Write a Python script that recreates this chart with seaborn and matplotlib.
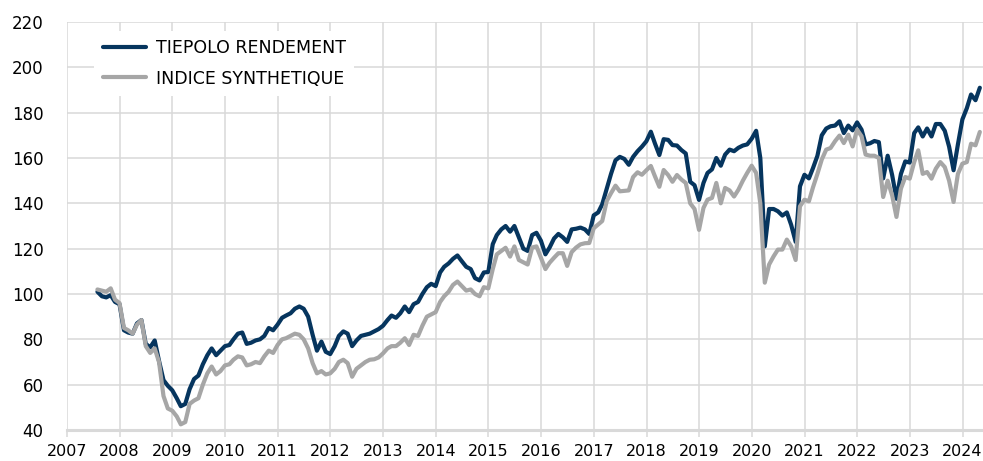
import pandas as pd
import matplotlib
matplotlib.use("Agg")
import matplotlib.pyplot as plt
import matplotlib.dates as mdates
import seaborn as sns

# monthly values, end of month, Jul 2007 -> Apr 2024
dates = pd.date_range("2007-07-31", "2024-04-30", freq="ME")

tiepolo = [
    101, 99, 98.5, 99.5, 96.5, 95.5,                                        # 2007
    84, 83, 82.5, 87, 88.5, 78, 76.5, 79.5, 70.5, 62, 59.5, 57.5,           # 2008
    54, 50.5, 51.5, 58, 62.5, 64, 69, 73, 76, 73, 75, 77,                   # 2009
    77.5, 80, 82.5, 83, 78, 78.5, 79.5, 80, 81.5, 85, 84, 86.5,             # 2010
    89.5, 90.5, 91.5, 93.5, 94.5, 93.5, 90, 82, 75, 79, 74.5, 73.5,         # 2011
    77, 81.5, 83.5, 82.5, 77, 79.5, 81.5, 82, 82.5, 83.5, 84.5, 86,         # 2012
    88.5, 90.5, 89.5, 91.5, 94.5, 92, 95.5, 96.5, 100, 103, 104.5, 103.5,   # 2013
    109.5, 112, 113.5, 115.5, 117, 114.5, 112, 111, 107, 106, 109.5, 109.7, # 2014
    122, 126, 128.5, 130, 127.5, 130, 125, 120, 119, 126, 127, 123.5,       # 2015
    117.5, 120.5, 124.5, 126.5, 125, 123, 128.5, 128.8, 129.3, 128.5, 126.5, 134.7,  # 2016
    136, 139.6, 146.5, 153, 159, 160.5, 159.6, 157, 160.5, 163, 165, 167.4,          # 2017
    171.6, 166.5, 161.3, 168.3, 168, 165.7, 165.5, 163.5, 162, 149.5, 148, 141.5,    # 2018
    149, 153.4, 155, 160, 156.6, 161.5, 163.7, 163, 164.5, 165.5, 166, 168.5,        # 2019
    172, 160, 121, 137.5, 137.5, 136.5, 134.6, 136, 130.5, 123, 147.5, 152.6,        # 2020
    151, 155.5, 161, 170, 173, 174, 174.3, 176.2, 171, 174.3, 172.2, 175.7,          # 2021
    172.5, 166, 166.5, 167.5, 167, 151, 161, 152.5, 142, 153, 158.5, 158,            # 2022
    171, 173.5, 169.5, 173, 169.5, 175, 175, 172, 165, 154.6, 166, 177,              # 2023
    182, 188, 185.5, 191,                                                             # 2024
]

indice = [
    102, 101.5, 101, 102.5, 97.5, 96,                                       # 2007
    85, 84, 82.5, 86.5, 88.5, 77, 74, 76, 70, 55, 49.5, 48.5,               # 2008
    46, 42.5, 43.5, 51.5, 53, 54, 60, 65, 68, 64.5, 66, 68.5,               # 2009
    69, 71, 72.5, 72, 68.5, 69, 70, 69.5, 72.5, 75, 74, 77.5,               # 2010
    80, 80.5, 81.5, 82.5, 82, 80, 76, 69.5, 65, 66, 64.5, 65,               # 2011
    67, 70, 71, 69.5, 63.5, 67, 68.5, 70, 71, 71.2, 72, 73.8,               # 2012
    76, 77, 77, 78.5, 80.5, 77.5, 82, 81.5, 86, 90, 91, 92,                 # 2013
    96.5, 99, 101, 104, 105.5, 103.5, 101.5, 102, 100, 99, 103, 102.5,      # 2014
    111, 117.5, 119, 120.4, 116.5, 121, 115, 114, 113, 120.5, 121, 116,     # 2015
    111, 113.8, 116, 118, 118, 112.4, 118.5, 120.5, 121.9, 122.4, 122.5, 129,        # 2016
    130.7, 132.2, 141, 144.5, 147.8, 145.3, 145.5, 145.7, 151.6, 153.7, 152.6, 154.6, # 2017
    156.5, 152, 147.3, 154.7, 152.5, 149.5, 152.5, 150.5, 149, 140, 137.5, 128.3,    # 2018
    138, 141.6, 142.4, 149, 140, 146.8, 145.7, 143, 146, 150, 153.4, 156.6,          # 2019
    153.4, 140, 105, 113, 116.6, 119.6, 119.6, 124, 121, 115, 138.7, 141.6,          # 2020
    140.9, 147, 153, 159.3, 163.7, 164.4, 167.4, 169.9, 166.6, 170.3, 165.1, 172.5,  # 2021
    169.6, 161.5, 161, 161, 160, 142.8, 150, 143.5, 134, 146.5, 151.6, 150.9,        # 2022
    158.2, 163.4, 153, 153.8, 150.9, 155.3, 158.2, 156, 150, 140.6, 153, 157.5,      # 2023
    158.2, 166.3, 165.6, 171.5,                                                       # 2024
]

labels = ["TIEPOLO RENDEMENT", "INDICE SYNTHETIQUE"]
colors = ["#06355e", "#a6a6a6"]
y_ticks = list(range(40, 221, 20))

sns.set_theme(style="whitegrid")
plt.rcParams["font.family"] = ["DejaVu Sans"]

fig = plt.figure(figsize=(9.83, 4.61), dpi=100)
ax = fig.add_axes([67 / 983, 31 / 461, 916 / 983, 408 / 461])

for vals, lab, col in zip([tiepolo, indice], labels, colors):
    sns.lineplot(x=dates, y=vals, ax=ax, color=col, lw=3, label=lab,
                 solid_joinstyle="round", solid_capstyle="round")

ax.set_ylim(40, 220)
ax.set_yticks(y_ticks)
ax.set_xlim(pd.Timestamp("2007-01-01"), pd.Timestamp("2024-05-22"))
ax.xaxis.set_major_locator(mdates.YearLocator())
ax.xaxis.set_major_formatter(mdates.DateFormatter("%Y"))
ax.set_xlabel("")
ax.set_ylabel("")

ax.grid(True, color="#d9d9d9", lw=1.1)
for side in ["top", "right", "left"]:
    ax.spines[side].set_visible(False)
ax.spines["bottom"].set_color("#d9d9d9")
ax.spines["bottom"].set_linewidth(2.2)

ax.tick_params(axis="x", bottom=True, length=5, width=1.1, color="#d9d9d9",
               pad=5, labelsize=11.5, labelcolor="black")
ax.tick_params(axis="y", left=False, length=0, pad=17, labelsize=12,
               labelcolor="black")

leg = ax.legend(loc="upper left", bbox_to_anchor=(0.02, 1.0), frameon=True,
                facecolor="white", edgecolor="none", framealpha=1, fancybox=False,
                fontsize=12.5, handlelength=2.5, handletextpad=0.55,
                labelspacing=0.7, borderpad=0.5)
for t in leg.get_texts():
    t.set_color("black")

fig.savefig("out.png", dpi=100)
